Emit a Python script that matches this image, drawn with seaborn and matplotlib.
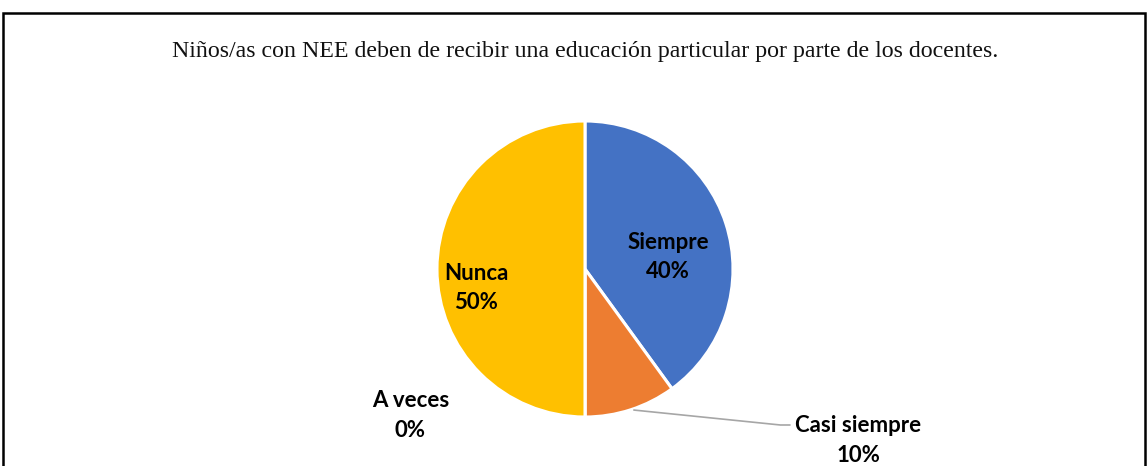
import matplotlib
matplotlib.use("Agg")
import matplotlib.pyplot as plt
from matplotlib.patches import Rectangle
import seaborn as sns

# chart data
categorias = ["Siempre", "Casi siempre", "A veces", "Nunca"]
porcentajes = [40, 10, 0, 50]
colores = ["#4472C4", "#ED7D31", "#A5A5A5", "#FFC000"]
titulo = "Niños/as con NEE deben de recibir una educación particular por parte de los docentes."

sns.set_theme(style="white")
plt.rcParams["font.family"] = ["Lato", "DejaVu Sans"]

W, H = 1148, 466
fig = plt.figure(figsize=(W / 100, H / 100), dpi=100)
fig.patch.set_facecolor("white")

# outer border of the chart area (cut at the bottom like the original)
fig.patches.append(Rectangle((3 / W, -0.1), (1145 - 3) / W, (H - 13) / H + 0.1,
                             transform=fig.transFigure, fill=False,
                             edgecolor="black", linewidth=1.8))

fig.text(585 / W, 1 - 52 / H, titulo, ha="center", va="center",
         family="Liberation Serif", fontsize=17.2, color="#111111")

# pie: centre (585, 269) px, radius 148 px
cx, cy, r = 585, 269, 148
ax = fig.add_axes([(cx - r) / W, (H - cy - r) / H, 2 * r / W, 2 * r / H])
ax.pie(porcentajes, colors=colores, startangle=90, counterclock=False,
       wedgeprops=dict(edgecolor="white", linewidth=2.2), radius=1)
ax.set_xlim(-1, 1)
ax.set_ylim(-1, 1)
ax.axis("off")

# label positions in pie units
pos = {
    "Siempre": (0.56, 0.08),
    "Casi siempre": (1.845, -1.16),
    "A veces": (-1.18, -0.99),
    "Nunca": (-0.736, -0.13),
}
for cat, val in zip(categorias, porcentajes):
    x, y = pos[cat]
    ax.text(x, y, f"{cat}\n{val}%", ha="center", va="center", fontsize=16,
            fontweight="bold", color="black", linespacing=1.5, clip_on=False)

# leader line for the small slice
ax.plot([0.33, 1.32, 1.385], [-0.953, -1.054, -1.054], color="#A6A6A6",
        linewidth=1.2, clip_on=False)

fig.savefig("out.png", dpi=100)
